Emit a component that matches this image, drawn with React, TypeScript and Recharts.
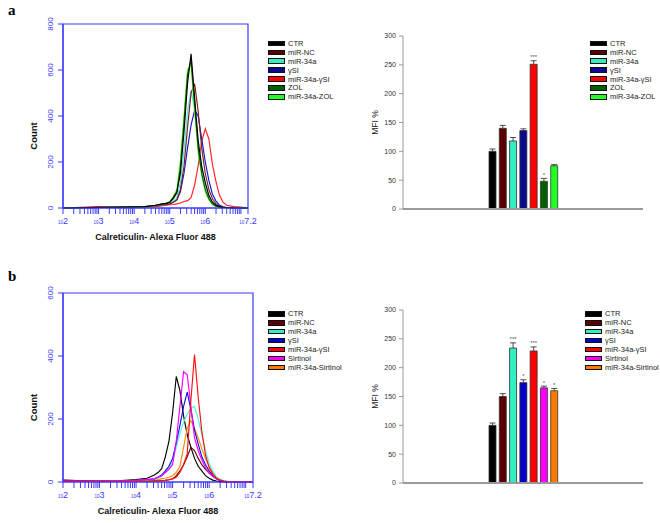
import React from 'react';
import { LineChart, Line, XAxis, YAxis, ReferenceArea, Legend, BarChart, Bar, Cell, LabelList } from 'recharts';

// log10 fluorescence bins shared by both histograms
const logBins = [2.0, 3.0, 3.5, 4.0, 4.3, 4.5, 4.6, 4.7, 4.8, 4.9, 5.0, 5.1, 5.2, 5.3, 5.4, 5.5, 5.6, 5.7, 5.8, 5.9, 6.0, 6.1, 6.2, 6.3, 6.4, 6.5, 6.6, 6.8, 7.0, 7.2];

const groupsA = ['CTR', 'miR-NC', 'miR-34a', 'γSI', 'miR-34a-γSI', 'ZOL', 'miR-34a-ZOL'];
const groupsB = ['CTR', 'miR-NC', 'miR-34a', 'γSI', 'miR-34a-γSI', 'Sirtinol', 'miR-34a-Sirtinol'];

// panel a histogram counts
const ctrA = [0, 3, 4, 5, 6, 10, 12, 15, 18, 20, 25, 45, 70, 150, 330, 540, 670, 480, 290, 180, 110, 55, 25, 12, 6, 3, 2, 0, 0, 0];
const ncA = [0, 2, 3, 4, 5, 8, 10, 12, 14, 16, 18, 25, 35, 80, 180, 350, 500, 540, 420, 260, 150, 80, 40, 18, 8, 4, 2, 0, 0, 0];
const m34aA = [0, 2, 3, 4, 5, 8, 10, 12, 14, 16, 20, 30, 45, 110, 250, 420, 510, 430, 300, 180, 100, 50, 25, 10, 5, 3, 1, 0, 0, 0];
const gsiA = [0, 2, 3, 4, 5, 8, 10, 12, 14, 16, 18, 25, 35, 70, 150, 260, 360, 425, 400, 300, 200, 120, 60, 30, 12, 5, 2, 0, 0, 0];
const m34aGsiA = [0, 6, 3, 3, 4, 5, 6, 8, 10, 12, 14, 15, 18, 22, 28, 32, 45, 100, 185, 290, 345, 300, 190, 115, 55, 25, 12, 6, 4, 0];
const zolA = [0, 2, 3, 4, 6, 10, 12, 15, 18, 20, 25, 40, 65, 180, 370, 580, 645, 450, 260, 150, 80, 40, 18, 8, 4, 2, 1, 0, 0, 0];
const m34aZolA = [0, 2, 3, 4, 6, 10, 12, 15, 18, 20, 28, 50, 80, 210, 400, 600, 620, 420, 240, 140, 70, 35, 15, 6, 3, 1, 0, 0, 0, 0];

// panel b histogram counts
const ctrB = [5, 3, 4, 8, 12, 22, 30, 42, 80, 130, 220, 335, 290, 210, 150, 110, 75, 50, 35, 20, 12, 6, 3, 2, 0, 0, 0, 0, 0, 0];
const ncB = [6, 2, 2, 4, 4, 3, 4, 4, 5, 7, 10, 20, 35, 55, 80, 110, 100, 75, 55, 40, 28, 18, 10, 5, 2, 0, 0, 0, 0, 0];
const m34aB = [2, 2, 3, 4, 6, 8, 12, 18, 30, 45, 65, 110, 155, 190, 215, 235, 240, 200, 150, 100, 60, 35, 15, 8, 4, 2, 0, 0, 0, 0];
const gsiB = [4, 3, 3, 5, 8, 10, 15, 22, 35, 50, 75, 125, 180, 240, 285, 230, 165, 120, 80, 55, 35, 20, 10, 5, 2, 0, 0, 0, 0, 0];
const m34aGsiB = [2, 2, 2, 3, 3, 3, 4, 4, 5, 7, 10, 15, 30, 55, 90, 260, 405, 270, 160, 85, 45, 25, 12, 6, 3, 1, 0, 0, 0, 0];
const sirtB = [3, 3, 3, 5, 8, 10, 15, 20, 30, 40, 55, 130, 240, 350, 340, 240, 140, 100, 70, 45, 28, 18, 10, 5, 2, 0, 0, 0, 0, 0];
const m34aSirtB = [2, 2, 2, 3, 4, 5, 8, 10, 12, 15, 20, 30, 50, 110, 170, 195, 170, 140, 105, 75, 50, 30, 15, 8, 4, 2, 0, 0, 0, 0];

// MFI % bar values, SEM and significance marks
const mfiA = [100, 140, 118, 136, 251, 48, 75];
const semA = [4, 5, 6, 3, 6, 5, 2];
const sigA = ['', '', '', '', '***', '*', ''];
const mfiB = [100, 150, 234, 174, 229, 165, 160];
const semB = [4, 5, 9, 5, 7, 3, 4];
const sigB = ['', '', '***', '*', '***', '*', '*'];

// axis ticks for the log histograms
const decadeTicks = [2, 3, 4, 5, 6, 7.2];
const decadeLabels = ['2', '3', '4', '5', '6', '7.2'];
const minorTicks: number[] = [];
[2, 3, 4, 5, 6].forEach((d) => [2, 3, 4, 5, 6, 7, 8, 9].forEach((k) => minorTicks.push(d + Math.log10(k))));
minorTicks.push(7);
const histXTicks = [...decadeTicks, ...minorTicks].sort((p, q) => p - q);

const colorsA = ['#000000', '#5a0000', '#33eec0', '#0a0a90', '#ff0000', '#006000', '#22ff22'];
const colorsB = ['#000000', '#5a0000', '#33eec0', '#0000c8', '#ff0000', '#ff00ff', '#ff7a00'];
const lineColorsA = ['#000000', '#7a2020', '#50e8e0', '#1515c8', '#ff2020', '#006000', '#66ee22'];
const lineColorsB = ['#000000', '#6a0000', '#50f0f0', '#1010e0', '#ff1010', '#ff00ff', '#ff8800'];

const BLUE = '#3b3bff';
const sans = '"Liberation Sans", Arial, sans-serif';

const buildHist = (series: number[][]) =>
  logBins.map((x, i) => {
    const row: Record<string, number> = { x };
    series.forEach((s, k) => (row['s' + k] = s[i]));
    return row;
  });

const histA = buildHist([ctrA, ncA, m34aA, gsiA, m34aGsiA, zolA, m34aZolA]);
const histB = buildHist([ctrB, ncB, m34aB, gsiB, m34aGsiB, sirtB, m34aSirtB]);

const buildBars = (names: string[], mfi: number[], sem: number[], sig: string[]) =>
  names.map((name, i) => ({ name, mfi: mfi[i], sem: sem[i], sig: sig[i] }));

const barsA = buildBars(groupsA, mfiA, semA, sigA);
const barsB = buildBars(groupsB, mfiB, semB, sigB);

const LegendBox = ({ names, colors }: { names: string[]; colors: string[] }) => (
  <div style={{ fontFamily: sans, fontSize: 7.5, color: '#222' }}>
    {names.map((n, i) => (
      <div key={n} style={{ display: 'flex', alignItems: 'center', height: 8.9, whiteSpace: 'nowrap' }}>
        <span
          style={{
            display: 'inline-block',
            width: 17,
            height: 5.5,
            background: colors[i],
            border: '0.6px solid #111',
            boxSizing: 'border-box',
            marginRight: 3,
          }}
        />
        <span style={{ color: '#222' }}>{n}</span>
      </div>
    ))}
  </div>
);

const HistYTick = ({ x, y, payload }: any) => (
  <text x={x - 3} y={y} transform={`rotate(-90 ${x - 3} ${y})`} textAnchor="middle" fontSize={8} fill={BLUE} fontFamily={sans}>
    {payload.value}
  </text>
);

const HistXTick = ({ x, y, payload }: any) => {
  const idx = decadeTicks.indexOf(payload.value);
  if (idx < 0) return null;
  return (
    <text x={x} y={y + 8} textAnchor="middle" fill={BLUE} fontFamily={sans}>
      <tspan fontSize={4.5}>10</tspan>
      <tspan fontSize={9}>{decadeLabels[idx]}</tspan>
    </text>
  );
};

function Histogram({ data, names, colors, lineColors, yMax, yTicks, height, margin, legendTop, order }: any) {
  return (
    <LineChart width={330} height={height} data={data} margin={margin}>
      <ReferenceArea x1={2} x2={7.2} y1={0} y2={yMax} fill="none" stroke={BLUE} strokeWidth={1.2} />
      <XAxis
        type="number"
        dataKey="x"
        domain={[2, 7.2]}
        ticks={histXTicks}
        interval={0}
        height={30}
        tickSize={6}
        tickMargin={2}
        axisLine={{ stroke: BLUE, strokeWidth: 1.2 }}
        tickLine={{ stroke: BLUE }}
        tick={<HistXTick />}
        label={{
          content: (p: any) => (
            <text x={p.viewBox.x + p.viewBox.width / 2} y={p.viewBox.y + 32} textAnchor="middle" fontSize={9} fontWeight="bold" fontFamily={sans} fill="#111">
              Calreticulin- Alexa Fluor 488
            </text>
          ),
        }}
      />
      <YAxis
        domain={[0, yMax]}
        ticks={yTicks}
        width={40}
        tickSize={5}
        tickMargin={2}
        axisLine={{ stroke: BLUE, strokeWidth: 1.2 }}
        tickLine={{ stroke: BLUE }}
        tick={<HistYTick />}
        label={{
          content: (p: any) => {
            const cx = p.viewBox.x + 14;
            const cy = p.viewBox.y + p.viewBox.height / 2 + 20;
            return (
              <text x={cx} y={cy} transform={`rotate(-90 ${cx} ${cy})`} textAnchor="middle" fontSize={9.5} fontWeight="bold" fontFamily={sans} fill="#111">
                Count
              </text>
            );
          },
        }}
      />
      {order.map((k: number) => (
        <Line key={k} type="linear" dataKey={'s' + k} name={names[k]} stroke={lineColors[k]} strokeWidth={1.15} dot={false} isAnimationActive={false} />
      ))}
      <Legend
        layout="vertical"
        align="center"
        verticalAlign="middle"
        width={100}
        wrapperStyle={{ left: 268, top: legendTop }}
        content={() => <LegendBox names={names} colors={colors} />}
      />
    </LineChart>
  );
}

const ErrorCap = (props: any) => {
  const { x, y, width, height } = props;
  const cx = x + width / 2;
  return (
    <g stroke="#222" strokeWidth={0.8}>
      <line x1={cx} y1={y + height} x2={cx} y2={y} />
      <line x1={x + 0.5} y1={y} x2={x + width - 0.5} y2={y} />
    </g>
  );
};

function MfiBars({ data, names, colors, height, margin, legendTop, legendLeft }: any) {
  return (
    <BarChart width={330} height={height} data={data} margin={margin} barSize={7}>
      <XAxis dataKey="name" tick={false} tickLine={false} height={10} padding={{ left: 84, right: 84 }} axisLine={{ stroke: '#9a9a9a', strokeWidth: 2 }} />
      <YAxis
        domain={[0, 300]}
        ticks={[0, 50, 100, 150, 200, 250, 300]}
        width={40}
        tickSize={4}
        tickMargin={3}
        axisLine={{ stroke: '#9a9a9a' }}
        tickLine={{ stroke: '#9a9a9a' }}
        tick={{ fontSize: 7, fill: '#333', fontFamily: sans }}
        label={{
          content: (p: any) => {
            const cx = p.viewBox.x + 15;
            const cy = p.viewBox.y + p.viewBox.height / 2;
            return (
              <text x={cx} y={cy} transform={`rotate(-90 ${cx} ${cy})`} textAnchor="middle" fontSize={8.5} fontFamily={sans} fill="#222">
                MFI %
              </text>
            );
          },
        }}
      />
      <Bar dataKey="mfi" stackId="s" stroke="#333" strokeWidth={0.8} isAnimationActive={false}>
        {data.map((d: any, i: number) => (
          <Cell key={d.name} fill={colors[i]} />
        ))}
      </Bar>
      <Bar dataKey="sem" stackId="s" shape={<ErrorCap />} isAnimationActive={false}>
        <LabelList dataKey="sig" position="top" offset={1.5} style={{ fontSize: 6, fill: '#555', fontFamily: sans }} />
      </Bar>
      <Legend
        layout="vertical"
        align="center"
        verticalAlign="middle"
        width={110}
        wrapperStyle={{ left: legendLeft, top: legendTop }}
        content={() => <LegendBox names={names} colors={colors} />}
      />
    </BarChart>
  );
}

const panelLetter = (t: string, top: number) => (
  <div style={{ position: 'absolute', left: 8, top, fontFamily: '"Liberation Serif", "Times New Roman", serif', fontWeight: 'bold', fontSize: 15 }}>{t}</div>
);

export default function App() {
  return (
    <div style={{ position: 'absolute', left: 0, top: 0, width: 660, height: 523, background: '#fff', overflow: 'hidden' }}>
      {panelLetter('a', 2)}
      {panelLetter('b', 268)}
      <div style={{ position: 'absolute', left: 0, top: 0 }}>
        <Histogram
          data={histA}
          names={groupsA}
          colors={colorsA}
          lineColors={lineColorsA}
          yMax={800}
          yTicks={[0, 200, 400, 600, 800]}
          height={250}
          margin={{ top: 24, right: 82, bottom: 12, left: 23 }}
          legendTop={39}
          order={[4, 3, 2, 1, 6, 5, 0]}
        />
      </div>
      <div style={{ position: 'absolute', left: 330, top: 0 }}>
        <MfiBars data={barsA} names={groupsA} colors={colorsA} height={250} margin={{ top: 36, right: 17, bottom: 31, left: 33 }} legendTop={39} legendLeft={260} />
      </div>
      <div style={{ position: 'absolute', left: 0, top: 260 }}>
        <Histogram
          data={histB}
          names={groupsB}
          colors={colorsB}
          lineColors={lineColorsB}
          yMax={600}
          yTicks={[0, 200, 400, 600]}
          height={263}
          margin={{ top: 33, right: 77, bottom: 11, left: 23 }}
          legendTop={49.5}
          order={[0, 6, 1, 2, 3, 5, 4]}
        />
      </div>
      <div style={{ position: 'absolute', left: 330, top: 260 }}>
        <MfiBars data={barsB} names={groupsB} colors={colorsB} height={263} margin={{ top: 50, right: 17, bottom: 30, left: 33 }} legendTop={49.5} legendLeft={255} />
      </div>
    </div>
  );
}
